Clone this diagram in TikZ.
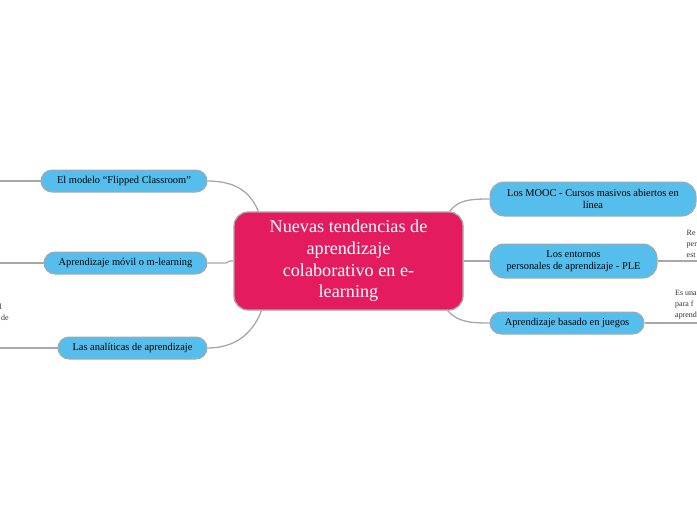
\documentclass[tikz,border=0pt]{standalone}
\usepackage{fontspec}
\setmainfont{Liberation Serif}
\usetikzlibrary{positioning,calc}
\definecolor{hubred}{RGB}{228,27,94}
\definecolor{topicblue}{RGB}{86,190,236}
\definecolor{edgegray}{RGB}{168,168,168}

\tikzset{
  hub/.style={draw=edgegray, line width=1.3pt, fill=hubred, rounded corners=14pt,
    text=white, font=\fontsize{18.2}{21.7}\selectfont, align=center,
    minimum width=229pt, minimum height=98pt, inner sep=0pt},
  topic/.style={draw=edgegray, line width=1pt, fill=topicblue, rounded corners=11pt,
    font=\fontsize{10.4}{12}\selectfont, align=center, minimum height=22pt, inner sep=0pt},
  link/.style={edgegray, line width=1.3pt},
  note/.style={font=\fontsize{8}{11}\selectfont, text=black!80, inner sep=0pt}
}

\begin{document}
\begin{tikzpicture}[x=1pt, y=-1pt]
    \useasboundingbox (0,0) rectangle (697,520);
    \clip (0,0) rectangle (697,520);

    % Central idea
    \node[hub] (hub) at (348.5, 261) {Nuevas tendencias de\\aprendizaje\\colaborativo en e-\\learning};

    % Left branches
    \node[topic, minimum width=166pt] (flip) at (124, 181) {El modelo “Flipped Classroom”};
    \node[topic, minimum width=163pt] (movil) at (125.5, 263) {Aprendizaje móvil o m-learning};
    \node[topic, minimum width=149pt] (anal) at (132.5, 348) {Las analíticas de aprendizaje};

    % Right branches
    \node[topic, minimum width=206pt, minimum height=34pt, rounded corners=14pt] (mooc) at (593, 199)
        {Los MOOC - Cursos masivos abiertos en\\línea};
    \node[topic, minimum width=167pt, minimum height=34pt, rounded corners=14pt] (ple) at (573.5, 261)
        {Los entornos\\personales de aprendizaje - PLE};
    \node[topic, minimum width=154pt] (juegos) at (567, 323) {Aprendizaje basado en juegos};

    % Connectors to the hub
    \draw[link] (flip.east) .. controls (240, 181) and (252, 196) .. ($(hub.north west)+(25,0)$);
    \draw[link] (movil.east) -- (226, 263) .. controls (229, 261) .. (hub.west);
    \draw[link] (anal.east) .. controls (240, 348) and (255, 328) .. ($(hub.south west)+(28,0)$);
    \draw[link] ($(hub.north east)+(-14,0)$) .. controls (458, 200) and (470, 199) .. (mooc.west);
    \draw[link] (hub.east) -- (ple.west);
    \draw[link] ($(hub.south east)+(-16,0)$) .. controls (458, 322) and (470, 323) .. (juegos.west);

    % Notes (cut off at the edges)
    \coordinate (lflip) at (0, 181);
    \coordinate (lmovil) at (0, 263);
    \coordinate (lanal) at (0, 348);
    \coordinate (rple) at (697, 261);
    \coordinate (rjuegos) at (697, 323);
    \draw[link] (flip.west) -- (lflip);
    \draw[link] (movil.west) -- (lmovil);
    \draw[link] (anal.west) -- (lanal);
    \draw[link] (ple.east) -- (rple);
    \draw[link] (juegos.east) -- (rjuegos);

    \node[note, anchor=east, align=right] (analnote) at (9, 312) {l\kern7pt\\de};
    \node[note, anchor=west, align=left] (plenote) at (686.5, 243.5) {Re\\per\\est};
    \node[note, anchor=west, align=left] (juegosnote) at (675, 305) {Es una\\para f\\aprend};
\end{tikzpicture}
\end{document}
